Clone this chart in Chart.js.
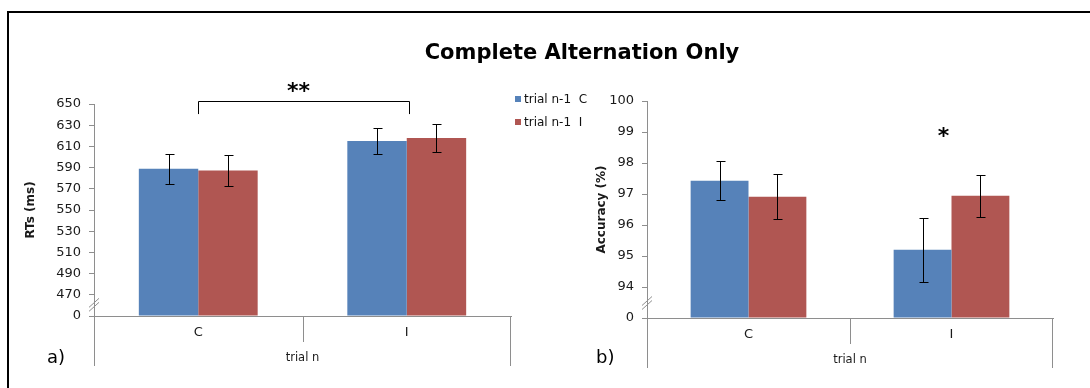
<!DOCTYPE html>
<html><head><meta charset="utf-8">
<script src="https://cdn.jsdelivr.net/npm/chart.js@4.4.1/dist/chart.umd.min.js"></script>
<style>
html,body{margin:0;padding:0;background:#fff;}
#wrap{position:relative;width:1090px;height:388px;overflow:hidden;font-family:"DejaVu Sans",sans-serif;background:#fff;}
canvas{position:absolute;left:0;top:0;}
.frame{position:absolute;left:7px;top:11px;width:1200px;height:500px;border-top:2px solid #000;border-left:2px solid #000;}
.t{position:absolute;white-space:pre;color:#111;line-height:1;}
.sw{position:absolute;width:6px;height:6px;}
</style></head><body>
<div id="wrap">
<div class="frame"></div>
<canvas id="c1" width="1090" height="388"></canvas>
<canvas id="c2" width="1090" height="388"></canvas>
<div class="t" id="title" style="left:282px;width:600px;text-align:center;top:42px;font-size:21px;font-weight:bold;color:#000;">Complete Alternation Only</div>
<div class="sw" id="sw0" style="left:515px;top:96px;"></div>
<div class="t" id="lg0" style="left:524px;top:93px;font-size:12px;"></div>
<div class="sw" id="sw1" style="left:515px;top:119px;"></div>
<div class="t" id="lg1" style="left:524px;top:116px;font-size:12px;"></div>
<div class="t" style="left:47px;top:348px;font-size:18px;color:#000;">a)</div>
<div class="t" style="left:596px;top:348px;font-size:18px;color:#000;">b)</div>
</div>
<script>
// ---- data ----
const categories = ['C', 'I'];
const seriesLabels = ['trial n-1  C', 'trial n-1  I'];
const seriesColors = ['#5682B9', '#B05652'];

const rtPrevC = [588.8, 615.2];
const rtPrevI = [587.2, 618.0];
const rtErrPrevC = [14.1, 12.6];
const rtErrPrevI = [14.4, 13.0];
const rtTickLabels = ['0', '470', '490', '510', '530', '550', '570', '590', '610', '630', '650'];

const accPrevC = [97.43, 95.20];
const accPrevI = [96.91, 96.94];
const accErrPrevC = [0.63, 1.04];
const accErrPrevI = [0.72, 0.68];
const accTickLabels = ['0', '94', '95', '96', '97', '98', '99', '100'];

const AXIS = '#8e8e8e';
const TXT = '#1a1a1a';
Chart.defaults.font.family = "'DejaVu Sans', sans-serif";
Chart.defaults.color = TXT;

// legend (html)
seriesLabels.forEach((l, i) => {
  document.getElementById('lg' + i).textContent = l;
  document.getElementById('sw' + i).style.background = seriesColors[i];
});

const extras = {
  id: 'extras',
  afterDatasetsDraw(chart, args, o) {
    const ctx = chart.ctx, y = chart.scales.y;
    ctx.save();
    ctx.strokeStyle = '#000'; ctx.lineWidth = 1;
    chart.data.datasets.forEach((ds, di) => {
      chart.getDatasetMeta(di).data.forEach((bar, i) => {
        const v = ds.data[i], e = o.errors[di][i];
        const yt = Math.round(y.getPixelForValue(v + e)) + 0.5;
        const yb = Math.round(y.getPixelForValue(v - e)) + 0.5;
        const bx = Math.round(bar.x) + 0.5;
        ctx.beginPath();
        ctx.moveTo(bx, yt); ctx.lineTo(bx, yb);
        ctx.moveTo(bx - 4, yt); ctx.lineTo(bx + 5, yt);
        ctx.moveTo(bx - 4, yb); ctx.lineTo(bx + 5, yb);
        ctx.stroke();
      });
    });
    ctx.restore();
  },
  afterDraw(chart, args, o) {
    const ctx = chart.ctx, x = chart.scales.x, y = chart.scales.y, ca = chart.chartArea;
    ctx.save();
    ctx.strokeStyle = AXIS; ctx.lineWidth = 1;
    // category dividers under the x axis
    const mid = Math.round((x.getPixelForValue(0) + x.getPixelForValue(1)) / 2) + 0.5;
    const l = Math.round(ca.left) + 0.5, r = Math.round(ca.right) - 0.5, b = ca.bottom;
    ctx.beginPath();
    ctx.moveTo(l, b); ctx.lineTo(l, b + 50);
    ctx.moveTo(mid, b); ctx.lineTo(mid, b + 26);
    ctx.moveTo(r, b); ctx.lineTo(r, b + 50);
    ctx.stroke();
    // axis break marks
    const yb = y.getPixelForValue(o.breakAt);
    ctx.beginPath();
    ctx.moveTo(ca.left - 5, yb + 3); ctx.lineTo(ca.left + 5, yb - 6);
    ctx.moveTo(ca.left - 5, yb + 7); ctx.lineTo(ca.left + 5, yb - 2);
    ctx.stroke();
    // significance bracket
    if (o.bracket) {
      const bk = o.bracket;
      const x0 = Math.round(x.getPixelForValue(bk.from)) + 0.5;
      const x1 = Math.round(x.getPixelForValue(bk.to)) + 2.5;
      const yt = Math.round(y.getPixelForValue(bk.top)) + 0.5;
      const yl = y.getPixelForValue(bk.leg);
      ctx.strokeStyle = '#000';
      ctx.beginPath();
      ctx.moveTo(x0, yl); ctx.lineTo(x0, yt); ctx.lineTo(x1, yt); ctx.lineTo(x1, yl);
      ctx.stroke();
    }
    if (o.star) {
      const s = o.star;
      ctx.fillStyle = '#000';
      ctx.font = "bold 22px 'DejaVu Sans'";
      ctx.textAlign = 'center'; ctx.textBaseline = 'middle';
      const sx = s.between ? (x.getPixelForValue(s.between[0]) + x.getPixelForValue(s.between[1])) / 2 + s.dx
                           : x.getPixelForValue(s.at) + s.dx;
      ctx.fillText(s.text, sx, y.getPixelForValue(s.value) + 4);
    }
    ctx.restore();
  }
};

function makeChart(id, cfg) {
  return new Chart(document.getElementById(id), {
    type: 'bar',
    data: {
      labels: categories,
      datasets: [
        { label: seriesLabels[0], data: cfg.d0, backgroundColor: seriesColors[0], borderWidth: 0 },
        { label: seriesLabels[1], data: cfg.d1, backgroundColor: seriesColors[1], borderWidth: 0 }
      ]
    },
    options: {
      responsive: false, animation: false,
      layout: { padding: cfg.pad },
      datasets: { bar: { categoryPercentage: 0.57, barPercentage: 1.0, base: cfg.min } },
      plugins: {
        legend: { display: false }, tooltip: { enabled: false },
        extras: { errors: cfg.err, breakAt: cfg.breakAt, bracket: cfg.bracket, star: cfg.star }
      },
      scales: {
        x: {
          offset: true,
          grid: { display: false, drawTicks: false },
          border: { display: true, color: AXIS },
          ticks: { color: TXT, font: { size: 13 }, padding: 9 },
          title: { display: true, text: 'trial n', color: TXT, font: { size: 11.5 }, padding: { top: 0, bottom: 1 } },
          afterFit(s) { s.height = 50; }
        },
        y: {
          min: cfg.min, max: cfg.max,
          grid: { display: true, drawOnChartArea: false, drawTicks: true, tickLength: 5, color: AXIS },
          border: { display: true, color: AXIS },
          ticks: { stepSize: cfg.step, padding: 8, color: TXT, font: { size: 13 },
                   callback: (v, i) => cfg.tickLabels[i] },
          title: { display: true, text: cfg.ytitle, color: TXT, font: { size: 12, weight: 'bold' }, padding: { top: 10, bottom: 0 } },
          afterFit(s) { s.width = cfg.yw; }
        }
      }
    },
    plugins: [extras]
  });
}

makeChart('c1', {
  d0: rtPrevC, d1: rtPrevI, err: [rtErrPrevC, rtErrPrevI],
  min: 450, max: 650, step: 20, tickLabels: rtTickLabels, ytitle: 'RTs (ms)',
  yw: 80, pad: { left: 14, top: 104, right: 579, bottom: 22 },
  breakAt: 461,
  bracket: { from: 0, to: 1, top: 653, leg: 640.5 },
  star: { text: '**', between: [0, 1], dx: -4, value: 664.5 }
});
makeChart('c2', {
  d0: accPrevC, d1: accPrevI, err: [accErrPrevC, accErrPrevI],
  min: 93, max: 100, step: 1, tickLabels: accTickLabels, ytitle: 'Accuracy (%)',
  yw: 62, pad: { left: 585, top: 101, right: 37, bottom: 20 },
  breakAt: 93.5,
  star: { text: '*', at: 1, dx: -8, value: 98.96 }
});
</script>
</body></html>
